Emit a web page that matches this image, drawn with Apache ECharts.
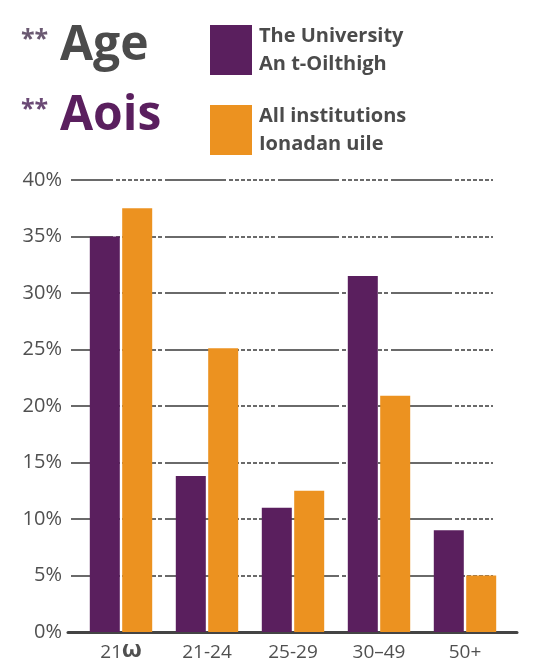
<!DOCTYPE html>
<html>
<head>
<meta charset="utf-8">
<script src="https://cdn.jsdelivr.net/npm/echarts@6/dist/echarts.min.js"></script>
<style>
html,body{margin:0;padding:0;background:#fff;}
#c{width:542px;height:667px;}
</style>
</head>
<body>
<div id="c"></div>
<script>
const categories = ['21Ѡ', '21-24', '25-29', '30–49', '50+'];
const universityValues = [35.0, 13.8, 11.0, 31.5, 9.0];
const allInstitutionsValues = [37.5, 25.1, 12.5, 20.9, 5.0];
const seriesNames = ['The University\nAn t-Oilthigh', 'All institutions\nIonadan uile'];
const yMin = 0, yMax = 40, yStep = 5;

const PURPLE = '#5a1f5e';
const ORANGE = '#ec9220';
const GRAY = '#4b4b4b';
const FONT = '"Open Sans", "Noto Sans", sans-serif';

const chart = echarts.init(document.getElementById('c'), null, {renderer: 'canvas'});

// dash pattern of the gridlines: long solid run, then a dotted run
const dotted = [3];
for (let i = 0; i < 8; i++) { dotted.push(4); dotted.push(i < 7 ? 2 : 3); }
const gridDash = [61].concat(dotted);

chart.setOption({
  animation: false,
  backgroundColor: '#ffffff',
  textStyle: {fontFamily: FONT},
  graphic: [
    {type: 'text', left: 21, top: 27, style: {text: '**', font: 'bold 25px ' + FONT, fill: '#6b5a72'}},
    {type: 'text', left: 60, top: 22, style: {text: 'Age', font: 'bold 48px ' + FONT, fill: GRAY}},
    {type: 'text', left: 21, top: 97, style: {text: '**', font: 'bold 25px ' + FONT, fill: '#6b4a75'}},
    {type: 'text', left: 60, top: 92, style: {text: 'Aois', font: 'bold 48px ' + FONT, fill: PURPLE}}
  ],
  legend: {
    orient: 'vertical',
    left: 205,
    top: 17,
    itemWidth: 42,
    itemHeight: 50,
    itemGap: 24,
    icon: 'rect',
    selectedMode: false,
    data: seriesNames,
    textStyle: {fontSize: 20, fontWeight: 'bold', color: GRAY, lineHeight: 28, padding: [0, 0, 0, 2], fontFamily: FONT}
  },
  grid: [
    {left: 78, right: 34, top: 180, bottom: 35},
    {left: 71, right: 49, top: 180, bottom: 35},
    {left: 68, right: 25, top: 180, bottom: 35}
  ],
  xAxis: [
    {
      type: 'category', gridIndex: 0, data: categories,
      axisLine: {show: false}, axisTick: {show: false},
      axisLabel: {
        interval: 0, hideOverlap: false,
        fontSize: 19, color: '#505050', margin: 11, fontFamily: FONT,
        formatter: function (v) {
          return v.indexOf('Ѡ') >= 0 ? v.replace('Ѡ', '') + '{g|Ѡ}' : v;
        },
        rich: {g: {fontFamily: '"DejaVu Sans"', fontWeight: 'bold', fontSize: 18, color: '#505050'}}
      }
    },
    {type: 'value', gridIndex: 1, show: false},
    {
      type: 'category', gridIndex: 2, data: categories,
      axisLine: {show: true, lineStyle: {color: '#444444', width: 3}},
      axisTick: {show: false}, axisLabel: {show: false}, splitLine: {show: false}
    }
  ],
  yAxis: [
    {type: 'value', gridIndex: 0, min: yMin, max: yMax, interval: yStep, show: false},
    {
      type: 'value', gridIndex: 1, min: yMin, max: yMax, interval: yStep,
      axisLine: {show: false}, axisTick: {show: false},
      axisLabel: {formatter: '{value}%', fontSize: 20, color: '#505050', margin: 9, fontFamily: FONT},
      splitLine: {show: true, lineStyle: {color: '#6a6a6a', width: 2, type: gridDash, dashOffset: 19}}
    },
    {type: 'value', gridIndex: 2, min: yMin, max: yMax, show: false}
  ],
  series: [
    {
      name: seriesNames[0], type: 'bar', xAxisIndex: 0, yAxisIndex: 0,
      data: universityValues, barWidth: 30, barGap: '8%',
      itemStyle: {color: PURPLE}, z: 5
    },
    {
      name: seriesNames[1], type: 'bar', xAxisIndex: 0, yAxisIndex: 0,
      data: allInstitutionsValues, barWidth: 30, barGap: '8%',
      itemStyle: {color: ORANGE}, z: 5
    }
  ]
});
</script>
</body>
</html>
